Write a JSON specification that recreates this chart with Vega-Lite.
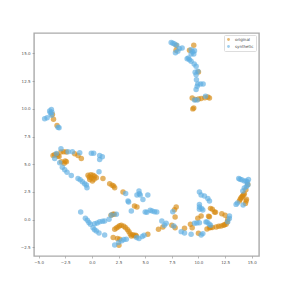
{"$schema":"https://vega.github.io/schema/vega-lite/v6.json","width":225,"height":223,"autosize":"none","padding":{"left":34,"top":33,"right":28,"bottom":31},"background":"white","view":{"stroke":"#aaaaaa","strokeWidth":1.4},
"data":{"values":[
{"k":"original","x":-3.7,"y":9.5},{"k":"original","x":-3.6,"y":9.07},{"k":"original","x":-3.27,"y":8.5},{"k":"original","x":9.56,"y":15.74},{"k":"original","x":9.16,"y":15.3},{"k":"original","x":7.9,"y":15.74},{"k":"original","x":7.9,"y":15.3},{"k":"original","x":10,"y":13.33},{"k":"original","x":9.41,"y":10.99},{"k":"original","x":10.25,"y":10.93},{"k":"original","x":11.03,"y":10.99},{"k":"original","x":10.88,"y":11.08},{"k":"original","x":9.56,"y":10.09},{"k":"original","x":9.47,"y":10.0},{"k":"original","x":9.7,"y":10.85},{"k":"original","x":10,"y":10.9},{"k":"original","x":10.6,"y":11.0},
{"k":"original","x":-3.64,"y":5.8},{"k":"original","x":-3.5,"y":5.85},{"k":"original","x":-3.08,"y":5.7},{"k":"original","x":-3.2,"y":5.75},{"k":"original","x":-2.64,"y":6.13},{"k":"original","x":-2.39,"y":5.22},{"k":"original","x":-2.86,"y":5.22},{"k":"original","x":-2.6,"y":5.1},{"k":"original","x":-2.5,"y":5.3},{"k":"original","x":-3.3,"y":5.9},{"k":"original","x":-2.9,"y":6.1},{"k":"original","x":-2.4,"y":6.1},{"k":"original","x":-1.61,"y":5.95},{"k":"original","x":-1.3,"y":5.8},{"k":"original","x":-0.99,"y":5.53},
{"k":"original","x":-0.36,"y":4.02},{"k":"original","x":-0.05,"y":3.78},{"k":"original","x":0.26,"y":3.93},{"k":"original","x":0.42,"y":3.78},{"k":"original","x":-0.2,"y":3.63},{"k":"original","x":-0.1,"y":4.05},{"k":"original","x":0.1,"y":4.0},{"k":"original","x":0.05,"y":3.5},{"k":"original","x":-0.25,"y":3.85},{"k":"original","x":0.2,"y":3.65},{"k":"original","x":1.04,"y":3.72},{"k":"original","x":1.67,"y":3.24},{"k":"original","x":1.9,"y":3.1},{"k":"original","x":2.04,"y":3.03},{"k":"original","x":2.14,"y":2.88},{"k":"original","x":2.92,"y":2.49},{"k":"original","x":4.0,"y":1.23},{"k":"original","x":4.23,"y":1.14},{"k":"original","x":1.98,"y":0.48},{"k":"original","x":1.8,"y":0.4},{"k":"original","x":2.1,"y":0.5},
{"k":"original","x":2.14,"y":-0.87},{"k":"original","x":2.3,"y":-0.75},{"k":"original","x":2.45,"y":-0.66},{"k":"original","x":2.6,"y":-0.55},{"k":"original","x":2.76,"y":-0.51},{"k":"original","x":3.0,"y":-0.6},{"k":"original","x":3.17,"y":-0.72},{"k":"original","x":3.35,"y":-0.9},{"k":"original","x":3.48,"y":-1.08},{"k":"original","x":3.6,"y":-1.3},{"k":"original","x":3.7,"y":-1.47},{"k":"original","x":3.85,"y":-1.35},{"k":"original","x":3.95,"y":-1.45},{"k":"original","x":4.1,"y":-1.4},{"k":"original","x":4.17,"y":-1.47},{"k":"original","x":2.61,"y":-1.77},{"k":"original","x":2.4,"y":-1.7},{"k":"original","x":2.0,"y":-1.62},{"k":"original","x":2.54,"y":-2.31},
{"k":"original","x":5.25,"y":-1.32},{"k":"original","x":6.25,"y":-0.87},{"k":"original","x":6.66,"y":-0.66},{"k":"original","x":7.91,"y":1.14},{"k":"original","x":7.75,"y":0.9},{"k":"original","x":7.81,"y":0.24},{"k":"original","x":7.5,"y":-0.51},{"k":"original","x":7.81,"y":-0.72},{"k":"original","x":8.69,"y":-0.78},{"k":"original","x":9.41,"y":-0.72},{"k":"original","x":9.25,"y":-0.42},{"k":"original","x":10,"y":-1.23},{"k":"original","x":9.94,"y":0.12},{"k":"original","x":10.25,"y":0.33},{"k":"original","x":11.03,"y":0.27},{"k":"original","x":10.95,"y":0.3},{"k":"original","x":11.13,"y":1.02},{"k":"original","x":11.3,"y":0.95},{"k":"original","x":11.6,"y":0.66},{"k":"original","x":11.5,"y":0.7},{"k":"original","x":12.19,"y":0.54},{"k":"original","x":12.5,"y":0.4},{"k":"original","x":10.8,"y":-0.85},{"k":"original","x":11.03,"y":-0.72},{"k":"original","x":11.15,"y":-0.7},{"k":"original","x":11.3,"y":-0.7},{"k":"original","x":11.66,"y":-0.66},{"k":"original","x":11.9,"y":-0.6},{"k":"original","x":12.13,"y":-0.57},{"k":"original","x":12.35,"y":-0.5},{"k":"original","x":12.45,"y":-0.45},{"k":"original","x":12.59,"y":-0.42},{"k":"original","x":12.7,"y":-0.2},{"k":"original","x":12.75,"y":0.03},{"k":"original","x":13.84,"y":1.68},{"k":"original","x":13.92,"y":1.85},{"k":"original","x":14,"y":1.98},{"k":"original","x":14.08,"y":2.05},{"k":"original","x":14.15,"y":2.15},{"k":"original","x":14.23,"y":2.25},{"k":"original","x":14.31,"y":2.34},{"k":"original","x":14.45,"y":2.7},{"k":"original","x":14.63,"y":3.18},{"k":"original","x":14.47,"y":1.68},{"k":"original","x":14.41,"y":1.47},{"k":"original","x":14.5,"y":1.85},
{"k":"synthetic","x":-4.43,"y":9.1},{"k":"synthetic","x":-4.2,"y":9.2},{"k":"synthetic","x":-3.96,"y":9.8},{"k":"synthetic","x":-3.8,"y":9.94},{"k":"synthetic","x":-3.9,"y":9.64},{"k":"synthetic","x":-3.8,"y":9.43},{"k":"synthetic","x":-3.75,"y":9.7},{"k":"synthetic","x":-3.18,"y":8.35},{"k":"synthetic","x":-3.08,"y":8.29},{"k":"synthetic","x":-2.9,"y":6.4},
{"k":"synthetic","x":7.44,"y":16.0},{"k":"synthetic","x":7.6,"y":15.93},{"k":"synthetic","x":7.75,"y":15.86},{"k":"synthetic","x":7.97,"y":15.74},{"k":"synthetic","x":8.47,"y":15.5},{"k":"synthetic","x":8.22,"y":15.44},{"k":"synthetic","x":7.84,"y":15.07},{"k":"synthetic","x":8.06,"y":15.2},{"k":"synthetic","x":9.31,"y":15.35},{"k":"synthetic","x":9.63,"y":15.25},{"k":"synthetic","x":9.56,"y":14.95},{"k":"synthetic","x":9.31,"y":14.95},{"k":"synthetic","x":9.45,"y":15.15},{"k":"synthetic","x":8.94,"y":14.53},{"k":"synthetic","x":9.05,"y":14.6},{"k":"synthetic","x":9.16,"y":14.44},{"k":"synthetic","x":9.31,"y":14.3},{"k":"synthetic","x":9.6,"y":14.05},{"k":"synthetic","x":9.78,"y":13.84},{"k":"synthetic","x":9.69,"y":13.3},{"k":"synthetic","x":9.94,"y":13.4},{"k":"synthetic","x":9.78,"y":13.09},{"k":"synthetic","x":9.81,"y":12.64},{"k":"synthetic","x":9.94,"y":12.25},{"k":"synthetic","x":9.88,"y":12.04},{"k":"synthetic","x":9.78,"y":11.74},{"k":"synthetic","x":10.2,"y":12.25},{"k":"synthetic","x":10.44,"y":12.25},{"k":"synthetic","x":10.66,"y":11.14},{"k":"synthetic","x":9.63,"y":10.8},{"k":"synthetic","x":9.88,"y":10.8},
{"k":"synthetic","x":-3.33,"y":5.98},{"k":"synthetic","x":-3.49,"y":5.53},{"k":"synthetic","x":-3.02,"y":5.13},{"k":"synthetic","x":-2.77,"y":4.74},{"k":"synthetic","x":-2.55,"y":4.5},{"k":"synthetic","x":-2.33,"y":4.29},{"k":"synthetic","x":-1.93,"y":3.99},{"k":"synthetic","x":-2.24,"y":6.13},{"k":"synthetic","x":-1.83,"y":6.13},{"k":"synthetic","x":-1.14,"y":6.04},{"k":"synthetic","x":-0.05,"y":6.0},{"k":"synthetic","x":0.17,"y":6},{"k":"synthetic","x":0.73,"y":5.8},{"k":"synthetic","x":0.98,"y":5.68},{"k":"synthetic","x":0.73,"y":5.44},{"k":"synthetic","x":0.67,"y":4.32},{"k":"synthetic","x":-1.3,"y":3.72},{"k":"synthetic","x":-1.1,"y":3.6},{"k":"synthetic","x":-0.89,"y":3.42},{"k":"synthetic","x":-0.68,"y":3.24},{"k":"synthetic","x":-0.46,"y":2.88},{"k":"synthetic","x":-0.52,"y":3.12},{"k":"synthetic","x":3.17,"y":2.37},{"k":"synthetic","x":3.39,"y":1.68},{"k":"synthetic","x":3.45,"y":1.6},{"k":"synthetic","x":3.7,"y":0.78},{"k":"synthetic","x":4.42,"y":2.58},{"k":"synthetic","x":4.23,"y":2.22},{"k":"synthetic","x":4.54,"y":2.22},{"k":"synthetic","x":4.45,"y":2.35},{"k":"synthetic","x":4.79,"y":1.83},
{"k":"synthetic","x":-1.05,"y":0.69},{"k":"synthetic","x":-0.61,"y":0.12},{"k":"synthetic","x":-0.43,"y":-0.06},{"k":"synthetic","x":-0.28,"y":-0.25},{"k":"synthetic","x":-0.14,"y":-0.42},{"k":"synthetic","x":0.11,"y":-0.72},{"k":"synthetic","x":0.25,"y":-0.9},{"k":"synthetic","x":0.42,"y":-1.02},{"k":"synthetic","x":0.67,"y":-1.2},{"k":"synthetic","x":1.2,"y":-1.38},{"k":"synthetic","x":0.26,"y":-0.36},{"k":"synthetic","x":0.5,"y":-0.3},{"k":"synthetic","x":0.73,"y":-0.18},{"k":"synthetic","x":1.0,"y":-0.15},{"k":"synthetic","x":1.2,"y":-0.12},{"k":"synthetic","x":1.61,"y":0.03},{"k":"synthetic","x":1.83,"y":0.42},{"k":"synthetic","x":2.3,"y":0.48},{"k":"synthetic","x":2.14,"y":-2.28},{"k":"synthetic","x":2.51,"y":-2.07},{"k":"synthetic","x":2.8,"y":-1.9},{"k":"synthetic","x":3.0,"y":-1.8},{"k":"synthetic","x":3.23,"y":-1.77},{"k":"synthetic","x":4.2,"y":-1.6},{"k":"synthetic","x":4.42,"y":-1.71},{"k":"synthetic","x":4.73,"y":-1.53},{"k":"synthetic","x":4.9,"y":-1.4},
{"k":"synthetic","x":5.25,"y":2.22},{"k":"synthetic","x":5.0,"y":0.7},{"k":"synthetic","x":5.47,"y":0.84},{"k":"synthetic","x":5.65,"y":0.78},{"k":"synthetic","x":5.88,"y":0.72},{"k":"synthetic","x":6.09,"y":0.69},{"k":"synthetic","x":5.16,"y":0.66},{"k":"synthetic","x":6.56,"y":-0.12},{"k":"synthetic","x":6.97,"y":-0.33},{"k":"synthetic","x":6.81,"y":-0.51},{"k":"synthetic","x":7.59,"y":0.72},{"k":"synthetic","x":7.69,"y":-0.57},{"k":"synthetic","x":8.38,"y":-1.08},{"k":"synthetic","x":8.69,"y":-1.2},{"k":"synthetic","x":9.31,"y":-1.32},{"k":"synthetic","x":9.63,"y":-0.33},{"k":"synthetic","x":9.85,"y":-0.3},{"k":"synthetic","x":10.09,"y":-0.27},{"k":"synthetic","x":10.09,"y":2.49},{"k":"synthetic","x":10.25,"y":2.22},{"k":"synthetic","x":10.56,"y":2.13},{"k":"synthetic","x":10.88,"y":1.92},{"k":"synthetic","x":11.03,"y":1.68},{"k":"synthetic","x":10.09,"y":1.38},{"k":"synthetic","x":10.09,"y":1.15},{"k":"synthetic","x":10.09,"y":0.93},{"k":"synthetic","x":10.3,"y":1.0},{"k":"synthetic","x":10.41,"y":0.87},{"k":"synthetic","x":10.7,"y":-0.2},{"k":"synthetic","x":10.81,"y":-0.21},{"k":"synthetic","x":11.0,"y":-0.4},{"k":"synthetic","x":11.13,"y":-0.51},{"k":"synthetic","x":10.41,"y":-1.26},{"k":"synthetic","x":10.25,"y":-1.38},{"k":"synthetic","x":12.91,"y":0.33},{"k":"synthetic","x":12.9,"y":0.1},{"k":"synthetic","x":12.75,"y":-0.18},{"k":"synthetic","x":13.78,"y":3.72},{"k":"synthetic","x":13.9,"y":3.65},{"k":"synthetic","x":14.06,"y":3.6},{"k":"synthetic","x":14.3,"y":3.5},{"k":"synthetic","x":14.47,"y":3.48},{"k":"synthetic","x":14.6,"y":3.4},{"k":"synthetic","x":14.69,"y":3.63},{"k":"synthetic","x":14.63,"y":3.12},{"k":"synthetic","x":14.5,"y":3.0},{"k":"synthetic","x":14.3,"y":2.85},{"k":"synthetic","x":14.16,"y":2.58},{"k":"synthetic","x":13.53,"y":1.38},{"k":"synthetic","x":13.65,"y":1.5},{"k":"synthetic","x":14.19,"y":1.32}
]},
"mark":{"type":"circle","size":30,"opacity":0.65},
"encoding":{"x":{"field":"x","type":"quantitative","scale":{"domain":[-5.43,15.68],"nice":false,"zero":false},"axis":{"title":null,"values":[-5,-2.5,0,2.5,5,7.5,10,12.5,15],"format":".1f","domain":false,"grid":false,"labelOverlap":false,"labelFontSize":4,"labelColor":"#555555","tickColor":"#777777","tickSize":2,"tickWidth":0.5,"labelPadding":2,"labelFont":"DejaVu Sans"}},
"y":{"field":"y","type":"quantitative","scale":{"domain":[-3.28,16.85],"nice":false,"zero":false},"axis":{"title":null,"values":[-2.5,0,2.5,5,7.5,10,12.5,15],"format":".1f","domain":false,"grid":false,"labelOverlap":false,"labelFontSize":4,"labelColor":"#555555","tickColor":"#777777","tickSize":2,"tickWidth":0.5,"labelPadding":2,"labelFont":"DejaVu Sans"}},
"color":{"field":"k","type":"nominal","scale":{"domain":["original","synthetic"],"range":["#d68910","#5dade2"]},"legend":{"title":null,"orient":"none","legendX":190,"legendY":2,"labelFontSize":4,"labelFont":"DejaVu Sans","labelColor":"#444444","symbolSize":8,"symbolType":"circle","symbolOpacity":0.6,"rowPadding":2,"padding":2,"strokeColor":"#dddddd","cornerRadius":1,"fillColor":"white"}},
"order":{"field":"k","sort":"ascending"}}}
